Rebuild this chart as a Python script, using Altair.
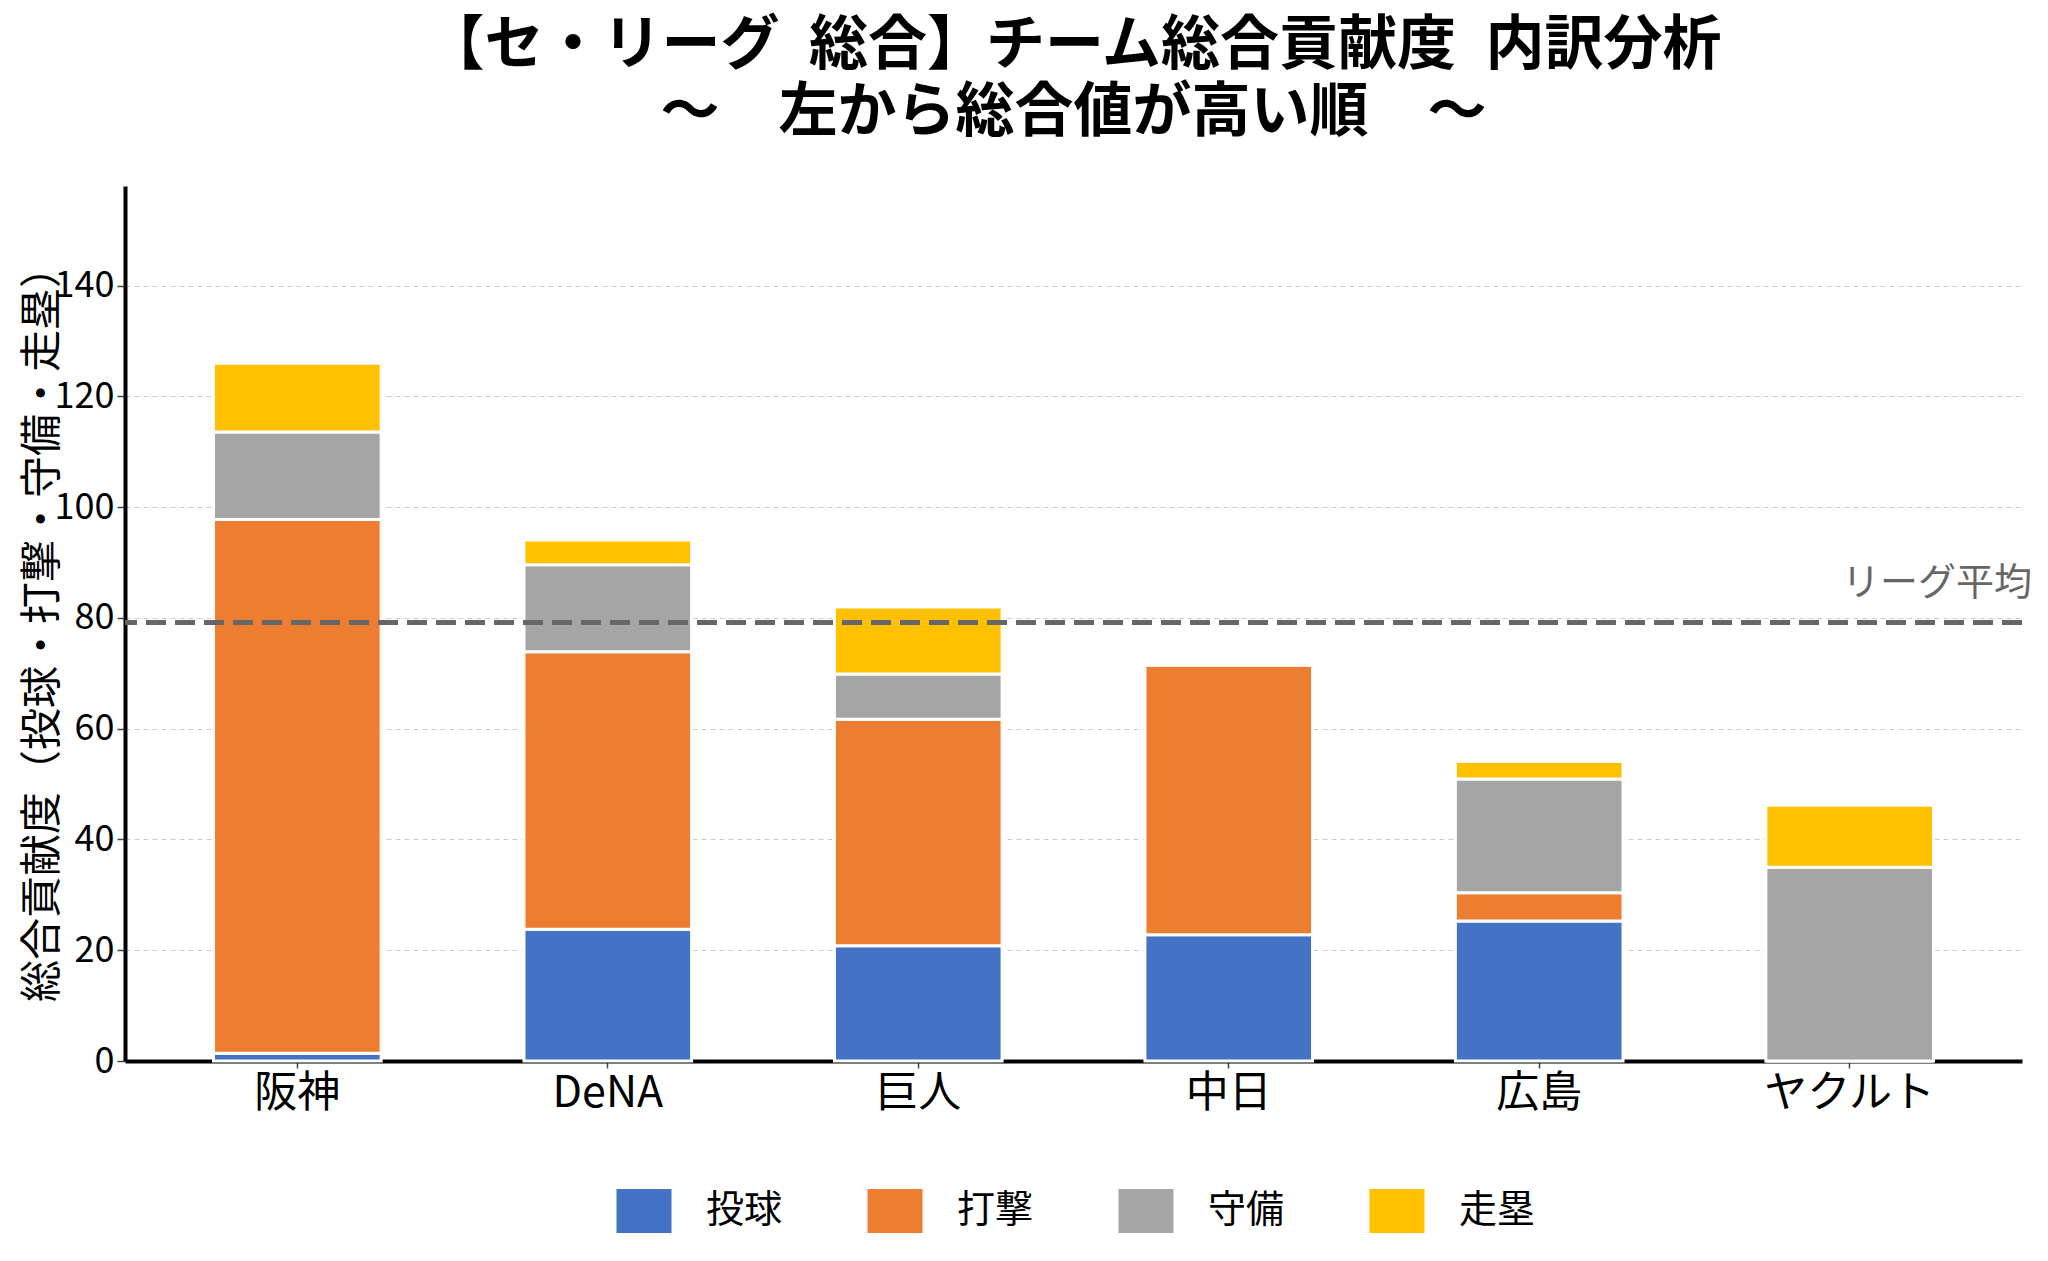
import altair as alt
import pandas as pd

teams = ["阪神", "DeNA", "巨人", "中日", "広島", "ヤクルト"]
components = ["投球", "打撃", "守備", "走塁"]
colors = ["#4472C4", "#ED7D31", "#A5A5A5", "#FFC000"]

pitching = [1.4, 23.8, 20.8, 22.8, 25.3, 0.0]
batting = [96.4, 50.1, 40.9, 48.7, 5.1, 0.0]
fielding = [15.8, 15.7, 8.2, 0.0, 20.5, 35.0]
running = [12.4, 4.5, 12.1, 0.0, 3.2, 11.2]

league_avg = 79.2
avg_label = "リーグ平均"

title_lines = ["【セ・リーグ\u2002総合】チーム総合貢献度\u2002内訳分析", "～　左から総合値が高い順　～"]
y_title = "総合貢献度（投球・打撃・守備・走塁）"
y_ticks = [0, 20, 40, 60, 80, 100, 120, 140]

FONT = "Noto Sans CJK JP"
W, H = 1897, 875

series = [pitching, batting, fielding, running]
rows = []
for ci, (comp, vals) in enumerate(zip(components, series)):
    for team, v in zip(teams, vals):
        rows.append({"team": team, "component": comp, "order": ci, "value": v})
df = pd.DataFrame(rows)
avg_df = pd.DataFrame({"avg": [league_avg], "label": [avg_label]})

bars = alt.Chart(df).mark_bar(stroke="white", strokeWidth=3).encode(
    x=alt.X(
        "team:N",
        sort=teams,
        title=None,
        scale=alt.Scale(paddingInner=0.46, paddingOuter=0.285),
        axis=alt.Axis(
            labelAngle=0,
            labelFontSize=43,
            labelFont=FONT,
            labelColor="black",
            labelPadding=4,
            tickSize=7,
            tickWidth=1.5,
            tickColor="#444444",
            domainColor="black",
            domainWidth=4,
            grid=False,
        ),
    ),
    y=alt.Y(
        "value:Q",
        stack="zero",
        title=y_title,
        scale=alt.Scale(domain=[0, 158], nice=False, zero=True),
        axis=alt.Axis(
            values=y_ticks,
            labelFontSize=36,
            labelFont=FONT,
            labelColor="black",
            labelPadding=3,
            tickSize=8,
            tickWidth=1.5,
            tickColor="#444444",
            domainColor="black",
            domainWidth=4,
            grid=True,
            gridColor="#cccccc",
            gridDash=[5, 4],
            gridWidth=1,
            titleFont=FONT,
            titleFontSize=42,
            titleFontWeight="normal",
            titleColor="black",
            titleAngle=270,
            titleAlign="center",
            titleBaseline="middle",
            titleX=-83,
            titleY=H / 2,
        ),
    ),
    color=alt.Color(
        "component:N",
        sort=components,
        scale=alt.Scale(domain=components, range=colors),
        legend=alt.Legend(
            title=None,
            orient="none",
            direction="horizontal",
            legendX=494,
            legendY=1000,
            symbolType="M-1.1,-0.88H1.1V0.88H-1.1Z",
            symbolSize=2500,
            symbolStrokeWidth=0,
            symbolOpacity=1,
            labelFont=FONT,
            labelFontSize=38,
            labelColor="black",
            labelOffset=37,
            columnPadding=84,
        ),
    ),
    order=alt.Order("order:Q", sort="ascending"),
)

rule = alt.Chart(avg_df).mark_rule(
    color="#666666", strokeWidth=5, strokeDash=[20, 9]
).encode(y="avg:Q")

label = alt.Chart(avg_df).mark_text(
    align="right",
    baseline="alphabetic",
    dy=-27,
    fontSize=38,
    font=FONT,
    color="#666666",
).encode(y="avg:Q", x=alt.value(W + 10), text="label:N")

chart = alt.layer(bars, rule, label).properties(
    width=W,
    height=H,
    background="white",
    autosize=alt.AutoSizeParams(type="none"),
    padding={"left": 117, "top": 178, "right": 10, "bottom": 190},
    title=alt.TitleParams(
        text=title_lines,
        font=FONT,
        fontSize=59,
        fontWeight="bold",
        color="black",
        anchor="middle",
        frame="group",
        lineHeight=67,
        offset=43,
    ),
).configure_view(stroke="transparent", strokeWidth=0)

chart.save("out.html", embed_options={"renderer": "svg", "actions": False})
